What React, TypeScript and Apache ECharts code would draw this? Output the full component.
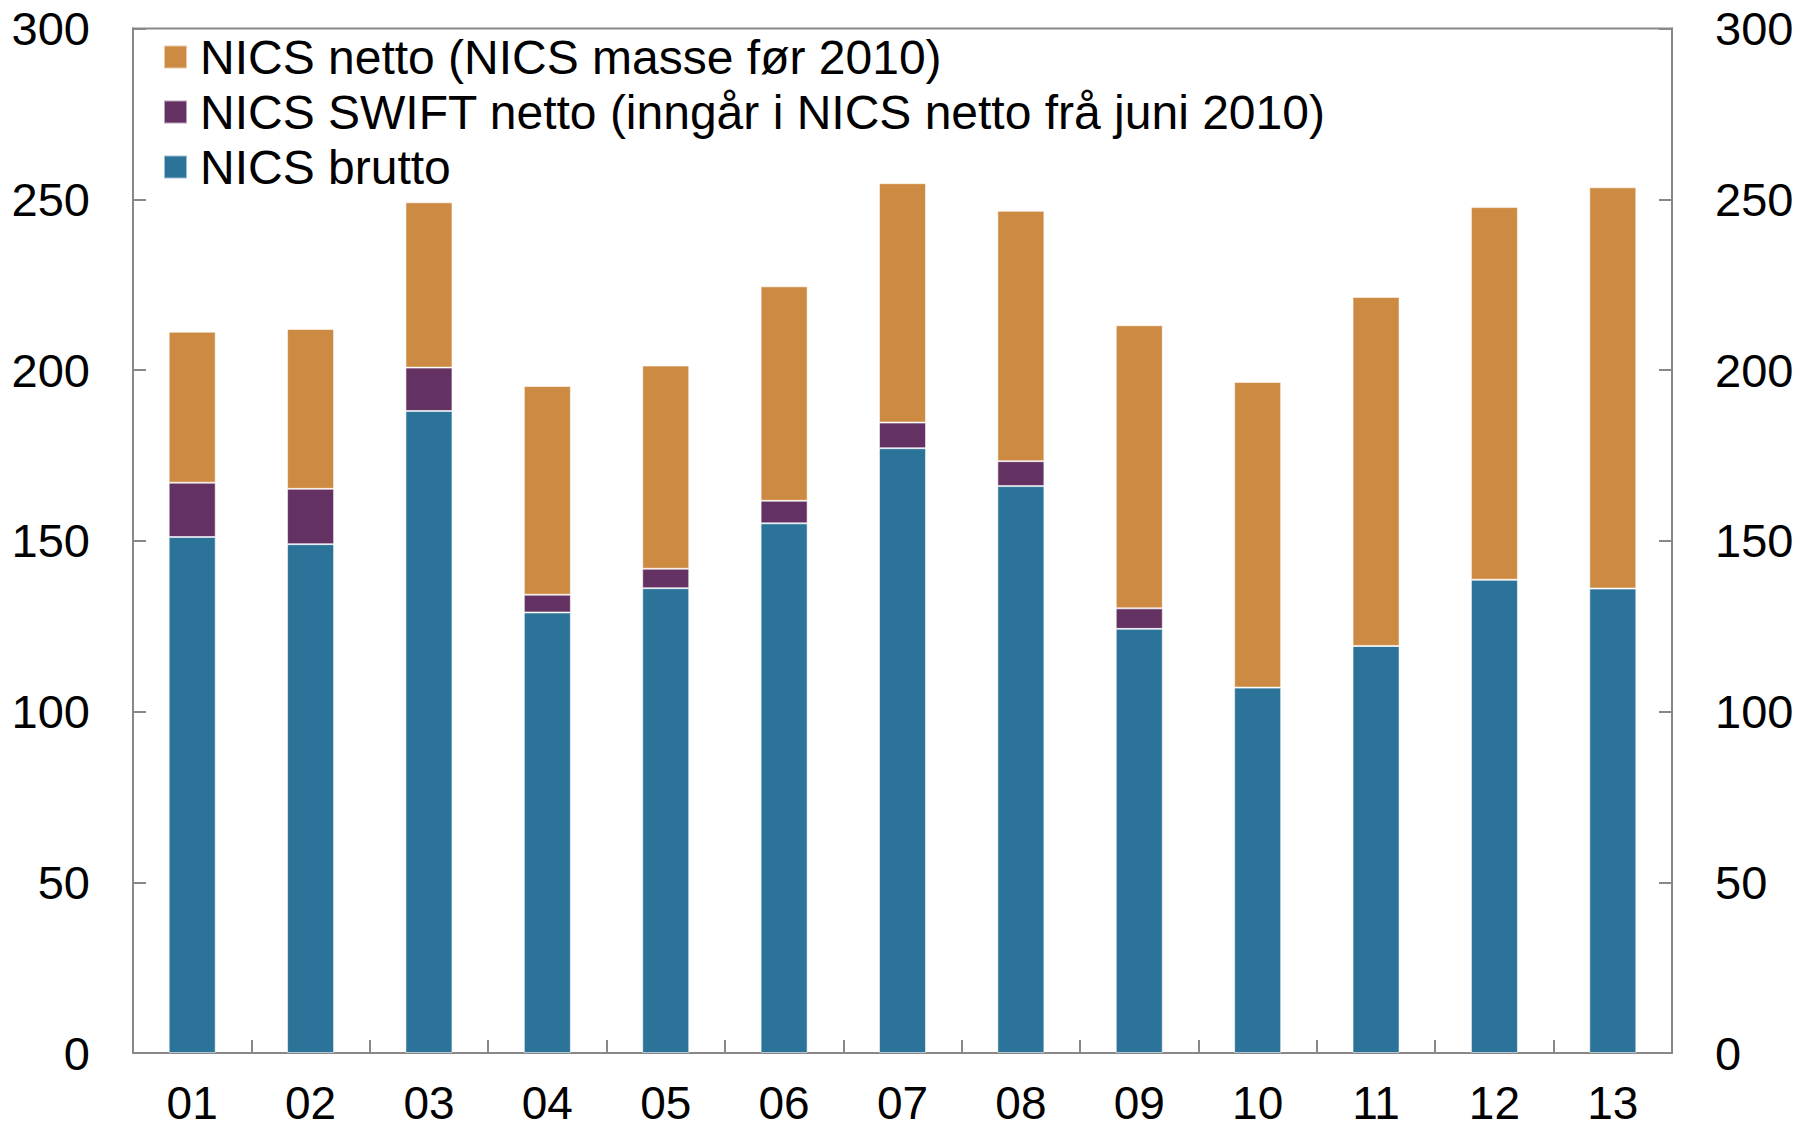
import React, { useEffect, useRef } from "react";
import * as echarts from "echarts";

const categories = ["01", "02", "03", "04", "05", "06", "07", "08", "09", "10", "11", "12", "13"];
const brutto = [151.1, 149.0, 188.0, 129.0, 136.1, 155.1, 177.1, 166.0, 124.2, 107.0, 119.2, 138.6, 136.0];
const swiftNetto = [15.9, 16.2, 12.7, 5.2, 5.7, 6.6, 7.5, 7.3, 6.0, 0, 0, 0, 0];
const nicsNetto = [44.2, 46.8, 48.4, 61.1, 59.5, 62.8, 70.1, 73.3, 82.9, 89.5, 102.2, 109.1, 117.5];
const yTicks = { min: 0, max: 300, interval: 50 };

const nameNetto = "NICS netto (NICS masse før 2010)";
const nameSwift = "NICS SWIFT netto (inngår i NICS netto frå juni 2010)";
const nameBrutto = "NICS brutto";

const FONT = "'Liberation Sans', Arial, Helvetica, sans-serif";
const AXIS = "#888888";

export default function App() {
  const ref = useRef<HTMLDivElement>(null);
  useEffect(() => {
    document.body.style.margin = "0";
    const chart = echarts.init(ref.current!, null, { renderer: "svg" });
    const yAxisCommon = {
      type: "value",
      min: yTicks.min,
      max: yTicks.max,
      interval: yTicks.interval,
      axisLine: { show: true, lineStyle: { color: AXIS, width: 2 } },
      axisTick: { show: true, inside: true, length: 13, lineStyle: { color: AXIS, width: 2 } },
      axisLabel: { color: "#000", fontSize: 47, fontFamily: FONT, margin: 43 },
      splitLine: { show: false },
    };
    const barStyle = (color: string) => ({
      color,
      borderColor: "rgba(255,255,255,0.55)",
      borderWidth: 1,
    });
    chart.setOption({
      animation: false,
      backgroundColor: "#fff",
      textStyle: { fontFamily: FONT },
      grid: {
        left: 133,
        right: 144,
        top: 28.5,
        bottom: 77,
        containLabel: false,
        show: true,
        borderColor: AXIS,
        borderWidth: 2,
      },
      legend: {
        orient: "vertical",
        left: 163,
        top: 33,
        padding: 0,
        itemWidth: 23,
        itemHeight: 23,
        itemGap: 7,
        icon: "rect",
        textStyle: { color: "#000", fontSize: 48, fontFamily: FONT, lineHeight: 47, padding: [0, 0, 0, 8] },
        data: [nameNetto, nameSwift, nameBrutto],
      },
      xAxis: {
        type: "category",
        data: categories,
        axisLine: { show: true, lineStyle: { color: AXIS, width: 2 } },
        axisTick: { show: true, inside: true, length: 13, lineStyle: { color: AXIS, width: 2 } },
        axisLabel: { color: "#000", fontSize: 46, fontFamily: FONT, margin: 31, lineHeight: 38 },
      },
      yAxis: [
        { ...yAxisCommon, position: "left" },
        { ...yAxisCommon, position: "right" },
      ],
      series: [
        { name: nameBrutto, type: "bar", stack: "t", barWidth: 47, data: brutto, itemStyle: barStyle("#2B7399") },
        { name: nameSwift, type: "bar", stack: "t", barWidth: 47, data: swiftNetto, itemStyle: barStyle("#633162") },
        { name: nameNetto, type: "bar", stack: "t", barWidth: 47, data: nicsNetto, itemStyle: barStyle("#CD8A42") },
      ],
    });
    return () => chart.dispose();
  }, []);
  return <div ref={ref} style={{ width: 1816, height: 1130 }} />;
}
